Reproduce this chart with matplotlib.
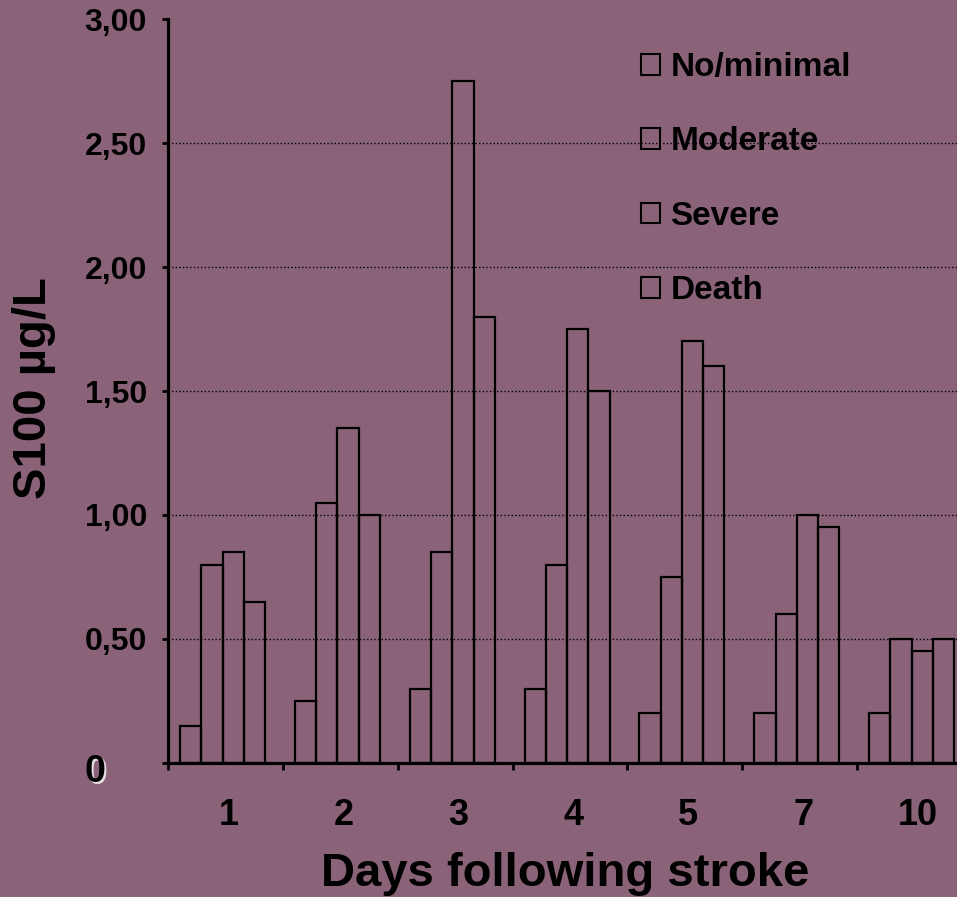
import numpy as np
import matplotlib
matplotlib.use("Agg")
import matplotlib.pyplot as plt
from matplotlib.transforms import offset_copy

plt.rcParams["font.family"] = ["Liberation Sans", "DejaVu Sans"]
plt.rcParams["font.weight"] = "bold"

BG = "#8b6379"

days = ["1", "2", "3", "4", "5", "7", "10"]
series_names = ["No/minimal", "Moderate", "Severe", "Death"]
no_minimal = [0.15, 0.25, 0.30, 0.30, 0.20, 0.20, 0.20]
moderate = [0.80, 1.05, 0.85, 0.80, 0.75, 0.60, 0.50]
severe = [0.85, 1.35, 2.75, 1.75, 1.70, 1.00, 0.45]
death = [0.65, 1.00, 1.80, 1.50, 1.60, 0.95, 0.50]
y_ticks = [0, 0.5, 1.0, 1.5, 2.0, 2.5, 3.0]
y_labels = ["", "0,50", "1,00", "1,50", "2,00", "2,50", "3,00"]

fig = plt.figure(figsize=(9.57, 8.97), dpi=100, facecolor=BG)
ax = fig.add_axes([0.1755, 0.1494, 1.0157 - 0.1755, 0.9788 - 0.1494])
ax.set_facecolor(BG)

x = np.arange(len(days))
bar_w = 0.185
start = -0.3025
for k, (name, vals) in enumerate(zip(series_names, [no_minimal, moderate, severe, death])):
    ax.bar(x + start + k * bar_w, vals, width=bar_w, facecolor="none",
           edgecolor="black", linewidth=1.6, label=name, zorder=3)

ax.set_xlim(-0.5, len(days) - 0.5)
ax.set_ylim(0, 3.0)

for s in ["top", "right"]:
    ax.spines[s].set_visible(False)
for s in ["left", "bottom"]:
    ax.spines[s].set_linewidth(2.3)
    ax.spines[s].set_zorder(4)

# y axis
ax.set_yticks(y_ticks)
ax.set_yticklabels(y_labels, fontsize=23, fontweight="bold")
ax.tick_params(axis="y", direction="out", length=4, width=2, pad=11)
ax.yaxis.grid(True, color="black", linestyle=(0, (1, 1.6)), linewidth=1.0)
gl = ax.get_ygridlines()
gl[0].set_visible(False)
gl[-1].set_visible(False)
ax.set_axisbelow(True)

# x axis: ticks at group boundaries, labels at centers
ax.set_xticks(np.arange(len(days) + 1) - 0.5)
ax.set_xticklabels([])
ax.set_xticks(x + 0.03, minor=True)
ax.set_xticklabels(days, minor=True, fontsize=26, fontweight="bold")
ax.tick_params(axis="x", which="major", direction="out", length=5, width=2)
ax.tick_params(axis="x", which="minor", length=0, pad=25)

# zero label with light shadow
zx, zy = 95 / 957, 1 - 772 / 897
fig.text(zx, zy, "0", fontsize=27, fontweight="bold", color="#e6dde2",
         ha="center", va="center",
         transform=offset_copy(fig.transFigure, fig=fig, x=1.5, y=-1.5, units="dots"))
fig.text(zx, zy, "0", fontsize=27, fontweight="bold", color="black",
         ha="center", va="center")

fig.text(34 / 957, 1 - 388 / 897, "S100 µg/L", rotation=90, fontsize=34,
         fontweight="bold", ha="center", va="center")
fig.text(565 / 957, 1 - 886 / 897, "Days following stroke", fontsize=34,
         fontweight="bold", ha="center", va="baseline")

leg = ax.legend(loc="upper left", bbox_to_anchor=(641 / 957, 1 - 52 / 897),
                bbox_transform=fig.transFigure, frameon=False,
                prop={"size": 24, "weight": "bold"}, handlelength=0.58,
                handleheight=0.58, handletextpad=0.3, labelspacing=1.3,
                borderpad=0, borderaxespad=0)
for h in leg.legend_handles:
    h.set_linewidth(1.5)

fig.savefig("out.png", dpi=100, facecolor=BG)
